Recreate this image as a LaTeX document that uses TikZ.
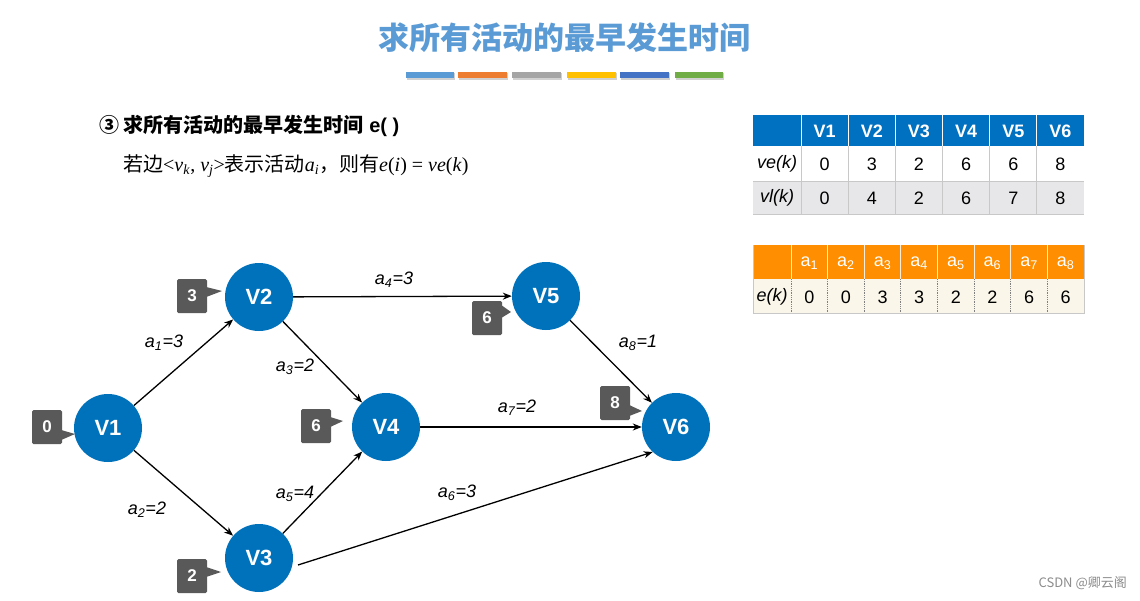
\documentclass[tikz,border=0pt]{standalone}
\usepackage{fontspec}
\setmainfont{Liberation Sans}
\newfontfamily\cjk{Noto Sans CJK SC}
\newfontfamily\tnr{Liberation Serif}
\usetikzlibrary{arrows.meta,calc}
\definecolor{titleblue}{RGB}{91,155,213}
\definecolor{vblue}{RGB}{0,114,187}
\definecolor{boxgray}{RGB}{89,89,89}
\definecolor{hblue}{RGB}{0,112,192}
\definecolor{rowgray}{RGB}{231,231,233}
\definecolor{gridgray}{RGB}{200,200,200}
\definecolor{horange}{RGB}{255,143,0}
\definecolor{cream}{RGB}{250,246,233}
\definecolor{barA}{RGB}{91,155,213}
\definecolor{barB}{RGB}{237,125,49}
\definecolor{barC}{RGB}{165,165,165}
\definecolor{barD}{RGB}{255,192,0}
\definecolor{barE}{RGB}{68,114,196}
\definecolor{barF}{RGB}{112,173,71}
\tikzset{
  vnode/.style={circle,fill=vblue,minimum size=68pt,inner sep=0pt,text=white,font=\bfseries\fontsize{22}{22}\selectfont},
  valbox/.style={fill=boxgray,minimum width=30pt,minimum height=34pt,inner sep=0pt,rounded corners=1.5pt,text=white,font=\bfseries\fontsize{17}{17}\selectfont},
  arr/.style={-{Stealth[length=9pt,width=7pt]},line width=1.3pt,black},
  elabel/.style={font=\itshape\fontsize{18}{18}\selectfont,inner sep=0pt},
  hcell/.style={text=white,font=\bfseries\fontsize{18}{18}\selectfont,inner sep=0pt},
  bcell/.style={text=black,font=\fontsize{18}{18}\selectfont,inner sep=0pt},
  acell/.style={text=white,font=\fontsize{18}{18}\selectfont,inner sep=0pt},
}
\newcommand{\elab}[2]{a\textsubscript{#1}=#2}
\begin{document}
\begin{tikzpicture}[x=1pt,y=-1pt]
\useasboundingbox (0,0) rectangle (1140,600);
\fill[white] (0,0) rectangle (1140,600);

% title
\node[text=titleblue,font=\cjk\bfseries\fontsize{31}{31}\selectfont,inner sep=0pt] (title) at (564,38) {求所有活动的最早发生时间};
% colour bars
\foreach \xa/\xb/\c [count=\i] in {406/454/barA,458/507/barB,512/561/barC,567/616/barD,620/669/barE,675/723/barF}{
  \fill[black!18] (\xa+1,73) rectangle (\xb+1,80);
  \fill[\c] (\xa,72) rectangle (\xb,78);
}

% subtitle
\node[anchor=west,inner sep=0pt,font=\fontsize{20}{20}\selectfont] (sub) at (99,126) {{\cjk\bfseries ③ 求所有活动的最早发生时间} \textbf{e( )}};
\node[anchor=west,inner sep=0pt,font=\fontsize{20}{20}\selectfont] (rule) at (123,166)
  {{\cjk 若边}{\tnr<\textit{v}\textsubscript{\textit{k}}, \textit{v}\textsubscript{\textit{j}}>}{\cjk 表示活动}{\tnr\textit{a}\textsubscript{\textit{i}}}{\cjk ，则有}{\tnr\textit{e}(\textit{i}) = \textit{ve}(\textit{k})}};

% vertices
\node[vnode] (v1) at (108,428) {V1};
\node[vnode] (v2) at (259,297) {V2};
\node[vnode] (v3) at (259,558) {V3};
\node[vnode] (v4) at (386,427) {V4};
\node[vnode] (v5) at (546,296) {V5};
\node[vnode] (v6) at (676,427) {V6};

% value boxes with pointers
\node[valbox] (b1) at (47,427) {0};
\node[valbox] (b2) at (192,296) {3};
\node[valbox] (b3) at (192,576) {2};
\node[valbox] (b4) at (316,426) {6};
\node[valbox] (b5) at (487,318) {6};
\node[valbox] (b6) at (615,403) {8};
\coordinate (t1) at (75,434);
\coordinate (t2) at (222,291);
\coordinate (t3) at (221,572);
\coordinate (t4) at (343,421);
\coordinate (t5) at (511,312);
\coordinate (t6) at (642,411);
\fill[boxgray] ($(b1.east)+(-1,3)$) -- (t1) -- ($(b1.east)+(-1,13)$) -- cycle;
\fill[boxgray] ($(b2.east)+(-1,-9)$) -- (t2) -- ($(b2.east)+(-1,1)$) -- cycle;
\fill[boxgray] ($(b3.east)+(-1,-9)$) -- (t3) -- ($(b3.east)+(-1,1)$) -- cycle;
\fill[boxgray] ($(b4.east)+(-1,-9)$) -- (t4) -- ($(b4.east)+(-1,1)$) -- cycle;
\fill[boxgray] ($(b5.east)+(-1,-13)$) -- (t5) -- ($(b5.east)+(-1,0)$) -- cycle;
\fill[boxgray] ($(b6.east)+(-1,2)$) -- (t6) -- ($(b6.east)+(-1,13)$) -- cycle;

% edges
\coordinate (s36) at (298,565);
\draw[arr] (v1) -- (v2);
\draw[arr] (v1) -- (v3);
\draw[arr] (v2) -- (v4);
\draw[arr] (v2) -- (v5);
\draw[arr] (v3) -- (v4);
\draw[arr] (s36) -- (v6.227);
\draw[arr] (v4) -- (v6);
\draw[arr] (v5) -- (v6);

% edge labels
\node[elabel] (l1) at (164,343) {\elab{1}{3}};
\node[elabel] (l2) at (147,510) {\elab{2}{2}};
\node[elabel] (l3) at (295,367) {\elab{3}{2}};
\node[elabel] (l4) at (394,280) {\elab{4}{3}};
\node[elabel] (l5) at (295,494) {\elab{5}{4}};
\node[elabel] (l6) at (457,493) {\elab{6}{3}};
\node[elabel] (l7) at (517,408) {\elab{7}{2}};
\node[elabel] (l8) at (638,343) {\elab{8}{1}};

% top table
\fill[hblue] (753,115) rectangle (1084,146);
\fill[rowgray] (753,181) rectangle (1084,214);
\draw[gridgray,line width=1pt] (753,181) -- (1084,181);
\draw[gridgray,line width=1pt] (753,214) -- (1084,214);
\foreach \k in {0,...,5}{
  \pgfmathsetmacro{\xl}{801+47.17*\k}
  \draw[white,line width=1pt] (\xl,115) -- (\xl,146);
  \draw[gridgray,line width=1pt] (\xl,146) -- (\xl,214);
}
\node[bcell,font=\itshape\fontsize{18}{18}\selectfont] (ve) at (777,164) {ve(k)};
\node[bcell,font=\itshape\fontsize{18}{18}\selectfont] (vl) at (777,198) {vl(k)};
\foreach \n/\e/\l [count=\k from 0] in {V1/0/0,V2/3/4,V3/2/2,V4/6/6,V5/6/7,V6/8/8}{
  \pgfmathsetmacro{\xc}{801+47.17*\k+23.6}
  \node[hcell] (h\k) at (\xc,131) {\n};
  \node[bcell] (e\k) at (\xc,164) {\e};
  \node[bcell] (l\k) at (\xc,198) {\l};
}

% bottom table
\fill[horange] (753,245) rectangle (1084,279);
\fill[cream] (753,279) rectangle (1084,313);
\draw[gridgray,line width=1pt] (753,245) -- (753,313) -- (1084,313) -- (1084,245);
\foreach \k in {0,...,7}{
  \pgfmathsetmacro{\xl}{791+36.625*\k}
  \draw[white!85!horange,line width=0.8pt] (\xl,245) -- (\xl,279);
  \draw[gray,line width=0.8pt,densely dotted] (\xl,279) -- (\xl,313);
}
\node[bcell,font=\itshape\fontsize{18}{18}\selectfont] (ek) at (772,297) {e(k)};
\foreach \v [count=\k from 0] in {0,0,3,3,2,2,6,6}{
  \pgfmathsetmacro{\xc}{791+36.625*\k+18.3}
  \pgfmathtruncatemacro{\idx}{\k+1}
  \node[acell] (a\k) at (\xc,263) {a\textsubscript{\idx}};
  \node[bcell] (ev\k) at (\xc,297) {\v};
}

% watermark
\node[anchor=east,inner sep=0pt,text=black!45,font=\cjk\fontsize{13}{13}\selectfont] (wm) at (1127,583) {CSDN @卿云阁};
\end{tikzpicture}
\end{document}
